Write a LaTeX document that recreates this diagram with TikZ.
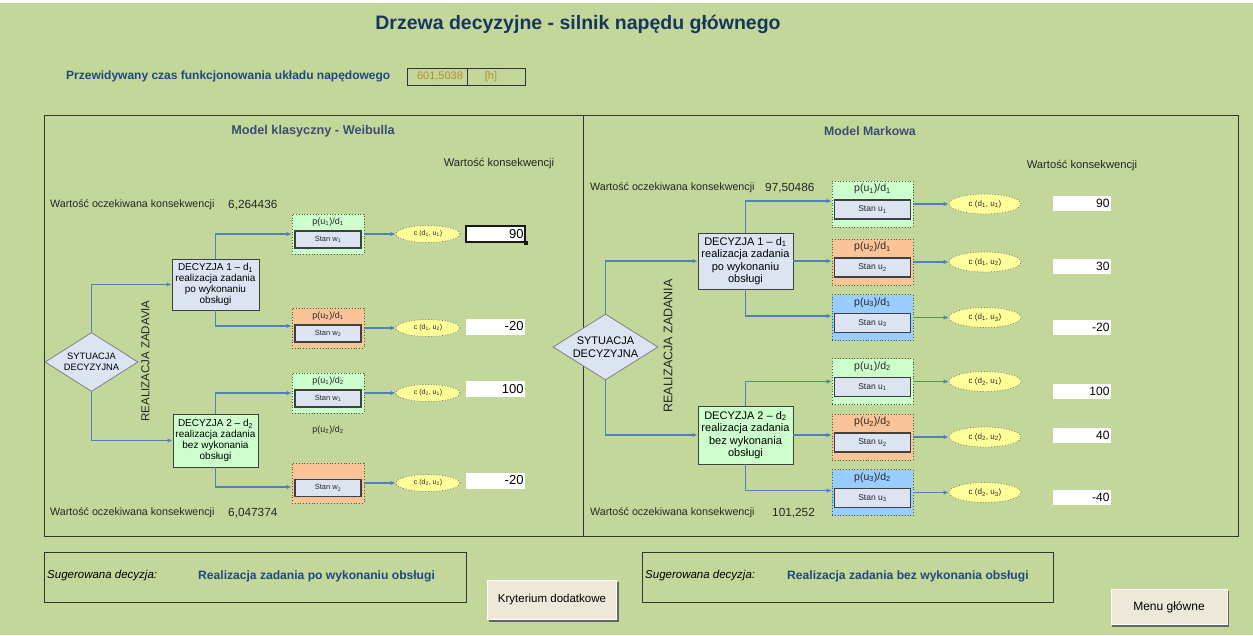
\documentclass[tikz,border=0pt]{standalone}
\usepackage{fontspec}
\setmainfont{Liberation Sans}
\usetikzlibrary{shapes.geometric,arrows.meta,calc}
\newcommand\sbs[1]{\textsubscript{#1}}
\newcommand\fz[2]{\fontsize{#1}{#2}\selectfont}
\definecolor{bg}{RGB}{196,215,155}
\definecolor{navy}{RGB}{23,54,93}
\definecolor{ttlblue}{RGB}{31,73,125}
\definecolor{slate}{RGB}{59,78,112}
\definecolor{gold}{RGB}{184,140,50}
\definecolor{conblue}{RGB}{79,129,189}
\definecolor{lav}{RGB}{220,228,242}
\definecolor{lgreen}{RGB}{204,255,204}
\definecolor{lorange}{RGB}{251,196,152}
\definecolor{lblue}{RGB}{153,204,255}
\definecolor{yel}{RGB}{255,255,153}
\definecolor{dotc}{RGB}{70,90,60}
\definecolor{btn}{RGB}{236,233,216}
\tikzset{
  every node/.style={inner sep=0pt},
  panel/.style={draw=black!80,line width=1.2pt,anchor=north west},
  conn/.style={draw=conblue,line width=1.3pt,-{Latex[length=5pt,width=4.5pt]}},
  decL/.style={draw=black!75,line width=0.9pt,align=center,minimum width=87pt,font=\fz{10}{10.8}},
  decR/.style={draw=black!75,line width=0.9pt,align=center,minimum width=95pt,font=\fz{11}{12.5}},
  diaL/.style={diamond,aspect=1.6,draw=black!50,line width=0.8pt,fill=lav,align=center,minimum width=93pt,minimum height=59pt,font=\fz{9.3}{11}},
  diaR/.style={diamond,aspect=1.6,draw=black!50,line width=0.8pt,fill=lav,align=center,minimum width=105pt,minimum height=66pt,font=\fz{11}{13}},
  stL/.style={draw=dotc,dotted,line width=0.8pt,minimum width=72pt,minimum height=40pt},
  stR/.style={draw=dotc,dotted,line width=0.8pt,minimum width=81pt,minimum height=46pt},
  ptL/.style={font=\fz{9}{10},text=black!85},
  ptR/.style={font=\fz{10.5}{12},text=black!85},
  stanL/.style={draw=black!75,line width=1.1pt,fill=lav,minimum width=66pt,minimum height=17pt,font=\fz{7.5}{8},text=black!85},
  stanR/.style={draw=black!75,line width=1.1pt,fill=lav,minimum width=76pt,minimum height=19pt,font=\fz{8.5}{9},text=black!85},
  ellL/.style={ellipse,draw=black!55,dotted,line width=0.8pt,fill=yel,minimum width=64pt,minimum height=17pt,font=\fz{7}{8},text=black!85},
  ellR/.style={ellipse,draw=black!55,dotted,line width=0.8pt,fill=yel,minimum width=72pt,minimum height=20pt,font=\fz{8}{9},text=black!85},
  valL/.style={fill=white,minimum width=59pt,minimum height=16pt,text width=56pt,align=right,font=\fz{13}{13}},
  valR/.style={fill=white,minimum width=58pt,minimum height=15pt,text width=55pt,align=right,font=\fz{12}{12}},
  evtxt/.style={anchor=west,font=\fz{10.7}{12},text=black!85},
  evval/.style={anchor=west,font=\fz{11.8}{13},text=black!85},
  wk/.style={font=\fz{11.2}{12},text=black!85},
  vert/.style={rotate=90,text=black!85},
  sugbox/.style={draw=black!80,line width=1.2pt,anchor=north west},
  sugit/.style={anchor=west,font=\fz{11.5}{13}\itshape},
  sugbl/.style={anchor=west,font=\fz{12.1}{13}\bfseries,text=ttlblue},
  button/.style={fill=btn,draw=white,line width=0.6pt},
  bshadow/.style={fill=black!60},
}
\begin{document}
\begin{tikzpicture}[x=1pt,y=-1pt]
\useasboundingbox (0,0) rectangle (1253,635);
\fill[bg] (0,0) rectangle (1253,635);
\fill[white] (0,0) rectangle (1253,3);

% header
\node[font=\fz{19.5}{22}\bfseries,text=navy] (title) at (578,24) {Drzewa decyzyjne - silnik napędu głównego};
\node[anchor=west,font=\fz{12}{14}\bfseries,text=ttlblue] (prz) at (66,76) {Przewidywany czas funkcjonowania układu napędowego};
\node[draw=black!80,line width=0.9pt,minimum width=60pt,minimum height=17pt,anchor=north west] (tb1) at (407,68) {};
\node[draw=black!80,line width=0.9pt,minimum width=58pt,minimum height=17pt,anchor=north west] (tb2) at (467,68) {};
\node[font=\fz{11}{12},text=gold] (tv1) at (440,76.5) {601,5038};
\node[font=\fz{11}{12},text=gold] (tv2) at (491,76.5) {[h]};

% panels
\node[panel,minimum width=539pt,minimum height=421pt] (pl) at (44,115) {};
\node[panel,minimum width=655pt,minimum height=421pt] (pr) at (583,115) {};
\node[font=\fz{12.7}{14}\bfseries,text=slate] (plt) at (313,131) {Model klasyczny - Weibulla};
\node[font=\fz{12.3}{14}\bfseries,text=slate] (prt) at (870,131) {Model Markowa};
\node[wk] (wkl) at (499,164) {Wartość konsekwencji};
\node[wk] (wkr) at (1082,166) {Wartość konsekwencji};

% ---------- LEFT ----------
\node[evtxt] (lev1) at (50,205) {Wartość oczekiwana konsekwencji};
\node[evval] (lev1v) at (228,205) {6,264436};
\node[evtxt] (lev2) at (50,513) {Wartość oczekiwana konsekwencji};
\node[evval] (lev2v) at (228,513) {6,047374};

\node[diaL] (lsit) at (91.5,362) {SYTUACJA\\DECYZYJNA};
\node[vert,font=\fz{11.5}{13}] (lrz) at (145.5,361) {REALIZACJA ZADAVIA};
\node[decL,fill=lav,minimum height=51pt] (ld1) at (215.5,284.5) {DECYZJA 1 -- d\sbs1\\realizacja zadania\\po wykonaniu\\obsługi};
\node[decL,fill=lgreen,minimum height=53pt,minimum width=85pt] (ld2) at (215.5,440.5) {DECYZJA 2 -- d\sbs2\\realizacja zadania\\bez wykonania\\obsługi};

\node[stL,fill=lgreen] (lb1) at (328,234) {};
\node[ptL] (lt1) at (328,222) {p(u\sbs1)/d\sbs1};
\node[stanL] (ls1) at (328,239.5) {Stan w\sbs1};
\node[stL,fill=lorange] (lb2) at (328,328) {};
\node[ptL] (lt2) at (328,316) {p(u\sbs2)/d\sbs1};
\node[stanL] (ls2) at (328,333.5) {Stan w\sbs2};
\node[stL,fill=lgreen] (lb3) at (328,393) {};
\node[ptL] (lt3) at (328,381) {p(u\sbs1)/d\sbs2};
\node[stanL] (ls3) at (328,398.5) {Stan w\sbs1};
\node[ptL] (lt4) at (328,430) {p(u\sbs2)/d\sbs2};
\node[stL,fill=lorange] (lb4) at (328,483) {};
\node[stanL] (ls4) at (328,488) {Stan w\sbs2};

\node[ellL] (le1) at (428,234) {c (d\sbs1, u\sbs1)};
\node[ellL] (le2) at (428,328) {c (d\sbs1, u\sbs2)};
\node[ellL] (le3) at (428,393) {c (d\sbs2, u\sbs1)};
\node[ellL] (le4) at (428,483) {c (d\sbs2, u\sbs2)};

\node[valL,draw=black!90,line width=2.2pt] (lv1) at (495.5,234) {90};
\node[fill=black!90,minimum size=4pt] (lv1h) at (lv1.south east) {};
\node[valL] (lv2) at (495.5,326.5) {-20};
\node[valL] (lv3) at (495.5,389) {100};
\node[valL] (lv4) at (495.5,480.5) {-20};

\draw[conn] (lsit.north) |- (ld1.west);
\draw[conn] (lsit.south) |- (ld2.west);
\draw[conn] (ld1.north) |- (lb1.west);
\draw[conn] (ld1.south) |- ([yshift=2pt]lb2.west);
\draw[conn] (ld2.north) |- (lb3.west);
\draw[conn] (ld2.south) |- ([yshift=-4pt]lb4.west);
\draw[conn] (lb1.east) -- (le1.west);
\draw[conn] (lb2.east) -- (le2.west);
\draw[conn] (lb3.east) -- (le3.west);
\draw[conn] (lb4.east) -- (le4.west);

% ---------- RIGHT ----------
\node[evtxt] (rev1) at (590,188) {Wartość oczekiwana konsekwencji};
\node[evval] (rev1v) at (765,188) {97,50486};
\node[evtxt] (rev2) at (590,513) {Wartość oczekiwana konsekwencji};
\node[evval] (rev2v) at (772,513) {101,252};

\node[diaR] (rsit) at (605.5,347) {SYTUACJA\\DECYZYJNA};
\node[vert,font=\fz{12.5}{14}] (rrz) at (668,346) {REALIZACJA ZADANIA};
\node[decR,fill=lav,minimum height=56pt] (rd1) at (745.5,261) {DECYZJA 1 -- d\sbs1\\realizacja zadania\\po wykonaniu\\obsługi};
\node[decR,fill=lgreen,minimum height=58pt] (rd2) at (745.5,435) {DECYZJA 2 -- d\sbs2\\realizacja zadania\\bez wykonania\\obsługi};

\node[stR,fill=lgreen] (rb1) at (872.5,204) {};
\node[ptR] (rt1) at (872.5,189) {p(u\sbs1)/d\sbs1};
\node[stanR] (rs1) at (872.5,209.5) {Stan u\sbs1};
\node[stR,fill=lorange] (rb2) at (872.5,262) {};
\node[ptR] (rt2) at (872.5,247) {p(u\sbs2)/d\sbs1};
\node[stanR] (rs2) at (872.5,267.5) {Stan u\sbs2};
\node[stR,fill=lblue] (rb3) at (872.5,317.5) {};
\node[ptR] (rt3) at (872.5,302.5) {p(u\sbs3)/d\sbs1};
\node[stanR] (rs3) at (872.5,323) {Stan u\sbs3};
\node[stR,fill=lgreen] (rb4) at (872.5,381.5) {};
\node[ptR] (rt4) at (872.5,366.5) {p(u\sbs1)/d\sbs2};
\node[stanR] (rs4) at (872.5,387) {Stan u\sbs1};
\node[stR,fill=lorange] (rb5) at (872.5,437) {};
\node[ptR] (rt5) at (872.5,422) {p(u\sbs2)/d\sbs2};
\node[stanR] (rs5) at (872.5,442.5) {Stan u\sbs2};
\node[stR,fill=lblue] (rb6) at (872.5,492.5) {};
\node[ptR] (rt6) at (872.5,477.5) {p(u\sbs3)/d\sbs2};
\node[stanR] (rs6) at (872.5,498) {Stan u\sbs3};

\node[ellR] (re1) at (985,204) {c (d\sbs1, u\sbs1)};
\node[ellR] (re2) at (985,262) {c (d\sbs1, u\sbs2)};
\node[ellR] (re3) at (985,317.5) {c (d\sbs1, u\sbs3)};
\node[ellR] (re4) at (985,381.5) {c (d\sbs2, u\sbs1)};
\node[ellR] (re5) at (985,437) {c (d\sbs2, u\sbs2)};
\node[ellR] (re6) at (985,492.5) {c (d\sbs2, u\sbs3)};

\node[valR] (rv1) at (1082,203.5) {90};
\node[valR] (rv2) at (1082,266) {30};
\node[valR] (rv3) at (1082,327) {-20};
\node[valR] (rv4) at (1082,391) {100};
\node[valR] (rv5) at (1082,435) {40};
\node[valR] (rv6) at (1082,497) {-40};

\draw[conn] (rsit.north) |- (rd1.west);
\draw[conn] (rsit.south) |- (rd2.west);
\draw[conn] (rd1.north) |- ([yshift=3pt]rb1.west);
\draw[conn] (rd1.east) -- (rd1.east -| rb2.west);
\draw[conn] (rd1.south) |- ([yshift=1.5pt]rb3.west);
\draw[conn] (rd2.north) |- (rb4.west);
\draw[conn] (rd2.east) -- (rd2.east -| rb5.west);
\draw[conn] (rd2.south) |- ([yshift=2pt]rb6.west);
\foreach \i in {1,...,6} {\draw[conn] (rb\i.east) -- (re\i.west);}

% ---------- BOTTOM ----------
\node[sugbox,minimum width=422pt,minimum height=50pt] (sl) at (44,552) {};
\node[sugit] (slt) at (47,576) {Sugerowana decyzja:};
\node[sugbl] (slv) at (198,576) {Realizacja zadania po wykonaniu obsługi};
\node[sugbox,minimum width=411pt,minimum height=50pt] (sr) at (642,552) {};
\node[sugit] (srt) at (645,576) {Sugerowana decyzja:};
\node[sugbl] (srv) at (787,576) {Realizacja zadania bez wykonania obsługi};

\node[bshadow,minimum width=130pt,minimum height=40pt] (kbs) at (553.5,601.5) {};
\node[button,minimum width=129pt,minimum height=39pt,font=\fz{11.5}{13}] (kb) at (552,600) {Kryterium dodatkowe};
\node[bshadow,minimum width=117pt,minimum height=36pt] (mbs) at (1170.5,608.5) {};
\node[button,minimum width=116pt,minimum height=35pt,font=\fz{12}{13}] (mb) at (1169,607) {Menu główne};
\end{tikzpicture}
\end{document}
